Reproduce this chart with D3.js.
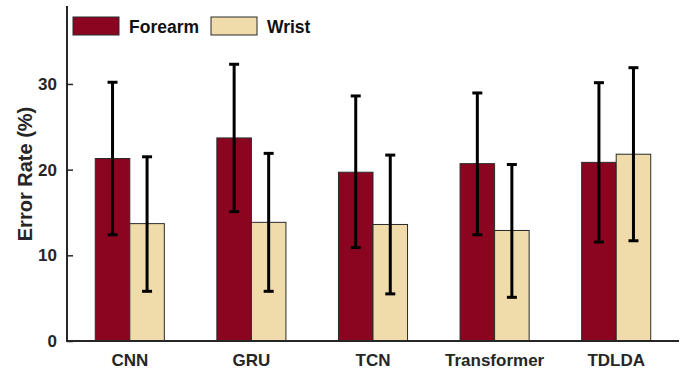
<!DOCTYPE html>
<html>
<head>
<meta charset="utf-8">
<script src="https://cdn.jsdelivr.net/npm/d3@7"></script>
<style>
  html, body { margin: 0; padding: 0; background: #fff; }
  svg { display: block; }
  text { font-family: "Liberation Sans", Arial, Helvetica, sans-serif; font-weight: bold; }
</style>
</head>
<body>
<svg id="chart" width="697" height="373"></svg>
<script>
const categories = ["CNN", "GRU", "TCN", "Transformer", "TDLDA"];
const seriesNames = ["Forearm", "Wrist"];
const forearmMean = [21.3, 23.7, 19.7, 20.7, 20.85];
const forearmLow  = [12.4, 15.1, 10.9, 12.4, 11.55];
const forearmHigh = [30.2, 32.3, 28.6, 28.95, 30.15];
const wristMean   = [13.7, 13.85, 13.6, 12.9, 21.8];
const wristLow    = [5.8, 5.8, 5.5, 5.1, 11.7];
const wristHigh   = [21.5, 21.9, 21.7, 20.6, 31.9];
const yTicks = [0, 10, 20, 30];
const colors = ["#8B0520", "#F0DCAA"];

const svg = d3.select("#chart");
const axisColor = "#262626";

const y = d3.scaleLinear().domain([0, 39.1]).range([341, 6]);
const x0 = d3.scaleBand().domain(categories).range([69, 677]).padding(0);
const half = x0.bandwidth() * 0.284;
const x1 = d3.scaleBand().domain(seriesNames).range([-half, half]).padding(0);

const data = [];
categories.forEach((c, i) => {
  data.push({cat: c, s: "Forearm", v: forearmMean[i], lo: forearmLow[i], hi: forearmHigh[i], col: colors[0]});
  data.push({cat: c, s: "Wrist", v: wristMean[i], lo: wristLow[i], hi: wristHigh[i], col: colors[1]});
});

const cx = d => x0(d.cat) + x0.bandwidth() / 2 + x1(d.s);

// bars
svg.append("g").selectAll("rect").data(data).join("rect")
  .attr("x", d => cx(d))
  .attr("y", d => y(d.v))
  .attr("width", x1.bandwidth())
  .attr("height", d => y(0) - y(d.v))
  .attr("fill", d => d.col)
  .attr("stroke", "#2a2a2a")
  .attr("stroke-width", 1);

// error bars
const eb = svg.append("g");
data.forEach(d => {
  const mx = cx(d) + x1.bandwidth() / 2;
  eb.append("line").attr("x1", mx).attr("x2", mx).attr("y1", y(d.lo)).attr("y2", y(d.hi))
    .attr("stroke", "#000").attr("stroke-width", 3);
  [d.lo, d.hi].forEach(v => {
    eb.append("line").attr("x1", mx - 5).attr("x2", mx + 5).attr("y1", y(v)).attr("y2", y(v))
      .attr("stroke", "#000").attr("stroke-width", 3);
  });
});

// y axis
const yAxis = d3.axisLeft(y).tickValues(yTicks).tickSize(-6).tickPadding(10).tickFormat(d3.format("d"));
const gy = svg.append("g").attr("transform", "translate(67,0)").call(yAxis);
gy.select(".domain").remove();
gy.selectAll(".tick line").attr("stroke", axisColor).attr("stroke-width", 1.5);
gy.selectAll(".tick text").attr("fill", axisColor).style("font-size", "17px")
  .style("font-family", '"Liberation Sans", Arial, sans-serif').style("font-weight", "bold");
svg.append("line").attr("x1", 67).attr("x2", 67).attr("y1", 6).attr("y2", 342)
  .attr("stroke", axisColor).attr("stroke-width", 2);

// x axis
const xAxis = d3.axisBottom(x0).tickSize(0).tickPadding(13);
const gx = svg.append("g").attr("transform", "translate(0,341)").call(xAxis);
gx.select(".domain").remove();
gx.selectAll(".tick text").attr("fill", axisColor).style("font-size", "17px")
  .style("font-family", '"Liberation Sans", Arial, sans-serif').style("font-weight", "bold");
svg.append("line").attr("x1", 66).attr("x2", 679).attr("y1", 341).attr("y2", 341)
  .attr("stroke", axisColor).attr("stroke-width", 2);

// y label
svg.append("text")
  .attr("transform", "translate(32,174) rotate(-90)")
  .attr("text-anchor", "middle")
  .attr("fill", axisColor)
  .style("font-size", "20px")
  .text("Error Rate (%)");

// legend
const legendItems = [{name: seriesNames[0], x: 73, col: colors[0]}, {name: seriesNames[1], x: 211, col: colors[1]}];
const lg = svg.append("g");
legendItems.forEach(it => {
  lg.append("rect").attr("x", it.x).attr("y", 17).attr("width", 46).attr("height", 18)
    .attr("fill", it.col).attr("stroke", "#2a2a2a").attr("stroke-width", 1);
  lg.append("text").attr("x", it.x + 56).attr("y", 32.5).attr("fill", "#111")
    .style("font-size", "17.5px").text(it.name);
});
</script>
</body>
</html>
